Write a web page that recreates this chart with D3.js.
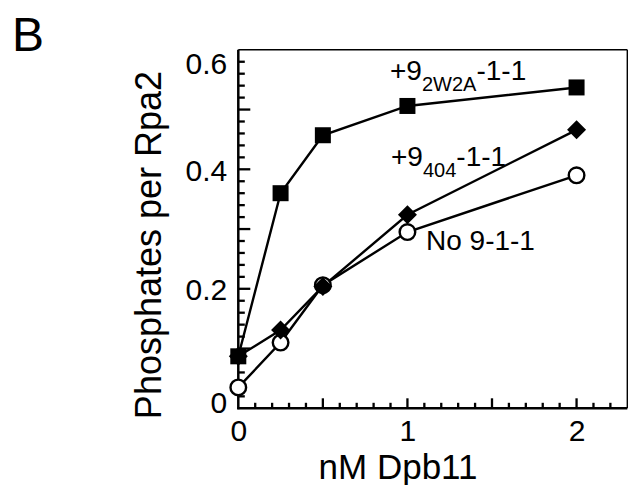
<!DOCTYPE html>
<html>
<head>
<meta charset="utf-8">
<script src="https://cdn.jsdelivr.net/npm/d3@7"></script>
<style>
  html, body { margin: 0; padding: 0; background: #fff; }
  svg { display: block; font-family: "Liberation Sans", Arial, Helvetica, sans-serif; }
</style>
</head>
<body>
<svg id="chart" width="629" height="485"></svg>
<script>
// ---- data ----
const doses = [0, 0.25, 0.5, 1, 2];                 // nM Dpb11
const sq2W2A = [0.087, 0.360, 0.457, 0.506, 0.537]; // +9(2W2A)-1-1, filled squares
const d404   = [0.087, 0.131, 0.204, 0.324, 0.466]; // +9(404)-1-1, filled diamonds
const no911  = [0.035, 0.110, 0.206, 0.295, 0.390]; // No 9-1-1, open circles
const xTickLabels = [0, 1, 2];
const yTickLabels = [0, 0.2, 0.4, 0.6];

(function () {
const svg = d3.select("#chart");
const pL = 238.3, pR = 627.3, pT = 49.8, pB = 408.3;

const x = d3.scaleLinear().domain([0, 2.3]).range([pL, pR]);
const y = d3.scaleLinear().domain([0, 0.6]).range([pB, pT]);

// frame (top & right thin)
svg.append("line").attr("x1", pL).attr("x2", pR).attr("y1", pT).attr("y2", pT)
  .attr("stroke", "#000").attr("stroke-width", 1.4);
svg.append("line").attr("x1", pR).attr("x2", pR).attr("y1", pT).attr("y2", pB)
  .attr("stroke", "#000").attr("stroke-width", 1.4);

// ticks (inward): x every 0.1, long every 0.5; y every 0.02, long every 0.1
const xTicks = d3.range(1, 23).map(i => ({ v: i / 10, major: i % 5 === 0 }));
const yTicks = d3.range(1, 30).map(i => ({ v: i / 50, major: i % 5 === 0 }));

svg.append("g").selectAll("line").data(xTicks).join("line")
  .attr("x1", d => x(d.v)).attr("x2", d => x(d.v))
  .attr("y1", pB).attr("y2", d => pB - (d.major ? 10 : 5.5))
  .attr("stroke", "#000").attr("stroke-width", 2.3);
svg.append("g").selectAll("line").data(yTicks).join("line")
  .attr("y1", d => y(d.v)).attr("y2", d => y(d.v))
  .attr("x1", pL).attr("x2", d => pL + (d.major ? 12 : 6.5))
  .attr("stroke", "#000").attr("stroke-width", 2.3);

// tick labels
const xLab = d3.axisBottom(x).tickValues(xTickLabels).tickSize(0).tickPadding(0).tickFormat(d3.format("d"));
const gxl = svg.append("g").attr("transform", `translate(0,${pB})`).call(xLab);
gxl.select(".domain").remove();
gxl.selectAll(".tick text").attr("font-size", 30).attr("font-family", null).attr("fill", "#000")
  .attr("dy", null).attr("y", 33);

const yLab = d3.axisLeft(y).tickValues(yTickLabels).tickSize(0).tickPadding(11)
  .tickFormat(d => d === 0 ? "0" : d3.format(".1f")(d));
const gyl = svg.append("g").attr("transform", `translate(${pL},0)`).call(yLab);
gyl.select(".domain").remove();
gyl.selectAll(".tick text").attr("font-size", 30).attr("font-family", null).attr("fill", "#000")
  .attr("dy", d => d === 0.6 ? "0.78em" : d === 0 ? "0.15em" : "0.36em");

// axis lines (thicker left & bottom)
svg.append("line").attr("x1", pL).attr("x2", pL).attr("y1", pT).attr("y2", pB + 1)
  .attr("stroke", "#000").attr("stroke-width", 2.5);
svg.append("line").attr("x1", pL - 1).attr("x2", pR).attr("y1", pB).attr("y2", pB)
  .attr("stroke", "#000").attr("stroke-width", 2.5);

// axis titles
svg.append("text").attr("x", 398).attr("y", 479).attr("text-anchor", "middle")
  .attr("font-size", 35).text("nM Dpb11");
svg.append("text").attr("transform", `translate(161,245) rotate(-90)`).attr("text-anchor", "middle")
  .attr("font-size", 36).text("Phosphates per Rpa2");

// panel letter
svg.append("text").attr("x", 12).attr("y", 51).attr("font-size", 48).text("B");

// series lines
const line = d3.line().x((d, i) => x(doses[i])).y(d => y(d));
[no911, d404, sq2W2A].forEach(vals => {
  svg.append("path").datum(vals).attr("d", line)
    .attr("fill", "none").attr("stroke", "#000").attr("stroke-width", 2.4);
});

// markers
svg.append("g").selectAll("circle").data(no911).join("circle")
  .attr("cx", (d, i) => x(doses[i])).attr("cy", d => y(d)).attr("r", 7.8)
  .attr("fill", "#fff").attr("stroke", "#000").attr("stroke-width", 2.4);

const dh = 9.5;
svg.append("g").selectAll("path").data(d404).join("path")
  .attr("transform", (d, i) => `translate(${x(doses[i])},${y(d)})`)
  .attr("d", `M0,${-dh}L${dh},0L0,${dh}L${-dh},0Z`).attr("fill", "#000");

const s = 16;
svg.append("g").selectAll("rect").data(sq2W2A).join("rect")
  .attr("x", (d, i) => x(doses[i]) - s / 2).attr("y", d => y(d) - s / 2)
  .attr("width", s).attr("height", s).attr("fill", "#000");

// series labels
function subLabel(xp, yp, pre, sub, post) {
  const t = svg.append("text").attr("x", xp).attr("y", yp).attr("font-size", 28);
  t.append("tspan").text(pre);
  t.append("tspan").attr("font-size", 20).attr("dy", 11).text(sub);
  t.append("tspan").attr("dy", -11).text(post);
}
subLabel(390, 80, "+9", "2W2A", "-1-1");
subLabel(391, 166, "+9", "404", "-1-1");
svg.append("text").attr("x", 426).attr("y", 250).attr("font-size", 28).text("No 9-1-1");
})();
</script>
</body>
</html>
